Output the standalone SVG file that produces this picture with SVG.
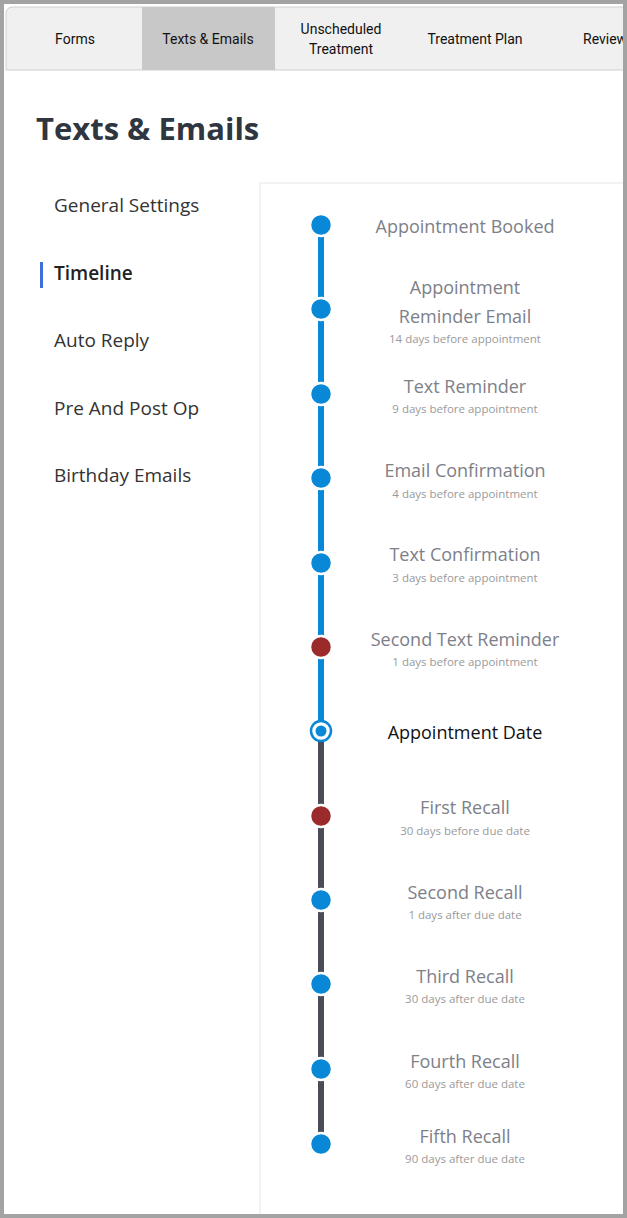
<svg xmlns="http://www.w3.org/2000/svg" width="627" height="1218" viewBox="0 0 627 1218">
<style>
.tab{font-family:Roboto,"Liberation Sans",sans-serif;font-size:14px;fill:#111;text-anchor:middle}
.nav{font-family:"Open Sans","Liberation Sans",sans-serif;font-size:19px;fill:#333}
.t{font-family:"Open Sans","Liberation Sans",sans-serif;font-size:18px;fill:#7d8089;text-anchor:middle}
.s{font-family:"Open Sans","Liberation Sans",sans-serif;font-size:11.5px;fill:#9a9a9a;text-anchor:middle}
.b{fill:#0a88d8;stroke:#fff;stroke-width:2.5}
.r{fill:#9b2a2a;stroke:#fff;stroke-width:2.5}
</style>
<rect x="0" y="0" width="627" height="1218" fill="#a3a3a3"/>
<rect x="4" y="4" width="619" height="1210" fill="#fff"/>
<g id="tabs">
<path d="M6 70 V14 Q6 7 13 7 H627 V70 Z" fill="#f0f0f0" stroke="#cfcfcf"/>
<rect x="142" y="7" width="133" height="63" fill="#c8c8c8"/>
<text class="tab" x="75" y="44">Forms</text>
<text class="tab" x="208" y="44">Texts &amp; Emails</text>
<text class="tab" x="341" y="34">Unscheduled</text>
<text class="tab" x="341" y="54">Treatment</text>
<text class="tab" x="475" y="44">Treatment Plan</text>
<text class="tab" x="583" y="44" style="text-anchor:start">Review</text>
</g>
<rect x="623" y="0" width="4" height="1218" fill="#a3a3a3"/>
<text x="36" y="140" font-family="'Open Sans','Liberation Sans',sans-serif" font-size="31" font-weight="bold" fill="#2f3640">Texts &amp; Emails</text>
<g id="sidenav">
<text class="nav" x="54" y="212">General Settings</text>
<rect x="40" y="262" width="3" height="26" fill="#3f6fd8"/>
<text class="nav" x="54" y="280" style="font-weight:600;fill:#222">Timeline</text>
<text class="nav" x="54" y="347">Auto Reply</text>
<text class="nav" x="54" y="415">Pre And Post Op</text>
<text class="nav" x="54" y="482">Birthday Emails</text>
</g>
<path d="M260 1214 V183 H623" fill="none" stroke="#eeeeee" stroke-width="1.5"/>
<g id="connectors">
<line x1="321" y1="225" x2="321" y2="731" stroke="#0a88d8" stroke-width="6"/>
<line x1="321" y1="731" x2="321" y2="1144" stroke="#4a4d55" stroke-width="6"/>
</g>
<g id="n1"><circle class="b" cx="321" cy="225" r="11"/><text class="t" x="465" y="233">Appointment Booked</text></g>
<g id="n2"><circle class="b" cx="321" cy="309" r="11"/><text class="t" x="465" y="294">Appointment</text><text class="t" x="465" y="323">Reminder Email</text><text class="s" x="465" y="343">14 days before appointment</text></g>
<g id="n3"><circle class="b" cx="321" cy="394" r="11"/><text class="t" x="465" y="393">Text Reminder</text><text class="s" x="465" y="413">9 days before appointment</text></g>
<g id="n4"><circle class="b" cx="321" cy="478" r="11"/><text class="t" x="465" y="477">Email Confirmation</text><text class="s" x="465" y="498">4 days before appointment</text></g>
<g id="n5"><circle class="b" cx="321" cy="563" r="11"/><text class="t" x="465" y="561">Text Confirmation</text><text class="s" x="465" y="582">3 days before appointment</text></g>
<g id="n6"><circle class="r" cx="321" cy="647" r="11"/><text class="t" x="465" y="646">Second Text Reminder</text><text class="s" x="465" y="666">1 days before appointment</text></g>
<g id="n7"><circle cx="321" cy="731" r="10" fill="#fff" stroke="#0a88d8" stroke-width="2.5"/><circle cx="321" cy="731" r="5.5" fill="#0a88d8"/><text class="t" x="465" y="739" style="fill:#111">Appointment Date</text></g>
<g id="n8"><circle class="r" cx="321" cy="816" r="11"/><text class="t" x="465" y="814">First Recall</text><text class="s" x="465" y="835">30 days before due date</text></g>
<g id="n9"><circle class="b" cx="321" cy="900" r="11"/><text class="t" x="465" y="899">Second Recall</text><text class="s" x="465" y="919">1 days after due date</text></g>
<g id="n10"><circle class="b" cx="321" cy="984" r="11"/><text class="t" x="465" y="983">Third Recall</text><text class="s" x="465" y="1003">30 days after due date</text></g>
<g id="n11"><circle class="b" cx="321" cy="1069" r="11"/><text class="t" x="465" y="1068">Fourth Recall</text><text class="s" x="465" y="1088">60 days after due date</text></g>
<g id="n12"><circle class="b" cx="321" cy="1144" r="11"/><text class="t" x="465" y="1143">Fifth Recall</text><text class="s" x="465" y="1163">90 days after due date</text></g>
</svg>
